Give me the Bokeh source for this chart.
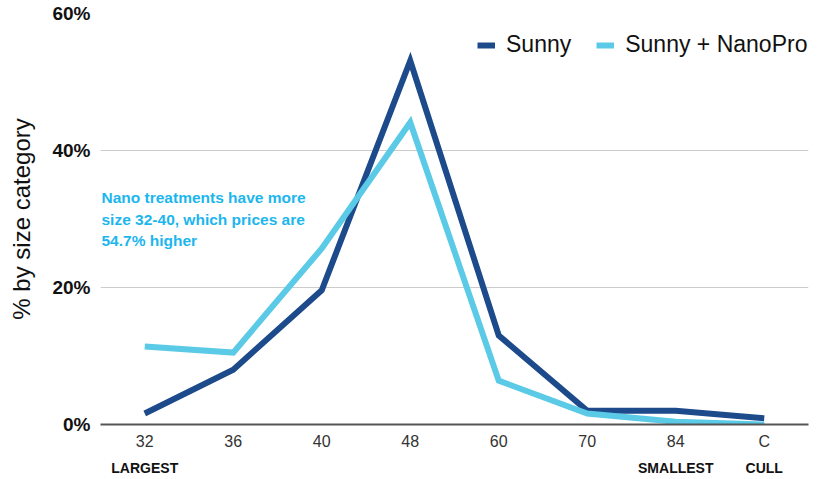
from bokeh.plotting import figure
from bokeh.models import (FactorRange, Range1d, FixedTicker, PrintfTickFormatter,
                          Legend, LegendItem, Label, CategoricalAxis)
from bokeh.embed import file_html
from bokeh.resources import INLINE

categories = ["32", "36", "40", "48", "60", "70", "84", "C"]
sunny = [1.6, 8.0, 19.6, 53.1, 13.0, 2.0, 2.0, 0.9]
sunny_nanopro = [11.4, 10.5, 25.7, 44.1, 6.4, 1.6, 0.4, 0.0]
y_ticks = [0, 20, 40, 60]
series_names = ["Sunny", "Sunny + NanoPro"]
# second row of x labels (blank factors are distinct runs of spaces)
size_notes = ["LARGEST", " ", "  ", "   ", "    ", "     ", "SMALLEST", "CULL"]
annotation_lines = ["Nano treatments have more",
                    "size 32-40, which prices are",
                    "54.7% higher"]

DARK = "#1d4a8a"
LIGHT = "#5bcae6"
NOTE = "#1cb6ee"
FONT = "Liberation Sans"

p = figure(width=816, height=479, x_range=FactorRange(factors=categories),
           y_range=Range1d(0, 60), output_backend="svg", toolbar_location=None,
           min_border_left=100, min_border_right=8, min_border_top=13,
           min_border_bottom=55)
p.outline_line_color = None
p.background_fill_color = "white"
p.extra_x_ranges = {"notes": FactorRange(factors=size_notes)}

r1 = p.line(categories, sunny, line_color=DARK, line_width=6, line_join="miter")
r2 = p.line(categories, sunny_nanopro, line_color=LIGHT, line_width=6, line_join="miter")

p.yaxis.ticker = FixedTicker(ticks=y_ticks)
p.yaxis.formatter = PrintfTickFormatter(format="%d%%")
p.yaxis.axis_line_color = None
p.yaxis.major_tick_line_color = None
p.yaxis.major_tick_out = 0
p.yaxis.minor_tick_line_color = None
p.yaxis.major_label_text_font = FONT
p.yaxis.major_label_text_font_style = "bold"
p.yaxis.major_label_text_font_size = "19px"
p.yaxis.major_label_text_color = "#111111"
p.yaxis.major_label_standoff = 10
p.yaxis.axis_label = "% by size category"
p.yaxis.axis_label_text_font = FONT
p.yaxis.axis_label_text_font_style = "normal"
p.yaxis.axis_label_text_font_size = "24px"
p.yaxis.axis_label_text_color = "#111111"
p.yaxis.axis_label_standoff = 14

p.xaxis.axis_line_color = "#555555"
p.xaxis.axis_line_width = 2
p.xaxis.major_tick_line_color = None
p.xaxis.major_tick_out = 0
p.xaxis.minor_tick_line_color = None
p.xaxis.major_label_text_font = FONT
p.xaxis.major_label_text_font_size = "16px"
p.xaxis.major_label_text_color = "#333333"
p.xaxis.major_label_standoff = 8
p.xaxis.axis_label_standoff = 0

note_axis = CategoricalAxis(x_range_name="notes",
                            axis_line_color=None, major_tick_line_color=None,
                            major_tick_out=0, minor_tick_line_color=None,
                            major_label_text_font=FONT, major_label_text_font_style="bold",
                            major_label_text_font_size="14px",
                            major_label_text_color="#111111",
                            major_label_standoff=7, axis_label_standoff=0)
p.add_layout(note_axis, "below")

p.xgrid.grid_line_color = None
p.ygrid.grid_line_color = "#cccccc"
p.ygrid.grid_line_width = 1

legend = Legend(items=[LegendItem(label=series_names[0], renderers=[r1]),
                       LegendItem(label=series_names[1], renderers=[r2])],
                orientation="horizontal", location=(377, 366),
                padding=0, margin=0, spacing=25, label_standoff=11,
                glyph_width=18, glyph_height=22, label_height=22,
                label_text_font=FONT, label_text_font_size="23px",
                label_text_color="#111111", border_line_color=None,
                background_fill_alpha=0)
p.add_layout(legend, "center")

for txt, yy in zip(annotation_lines, [33.1, 30.0, 26.9]):
    p.add_layout(Label(x=0.0, y=yy, x_offset=1, text=txt, text_font=FONT,
                       text_font_style="bold", text_font_size="15.5px",
                       text_color=NOTE, text_baseline="middle", text_align="left"))

open("out.html", "w").write(file_html(p, INLINE))
